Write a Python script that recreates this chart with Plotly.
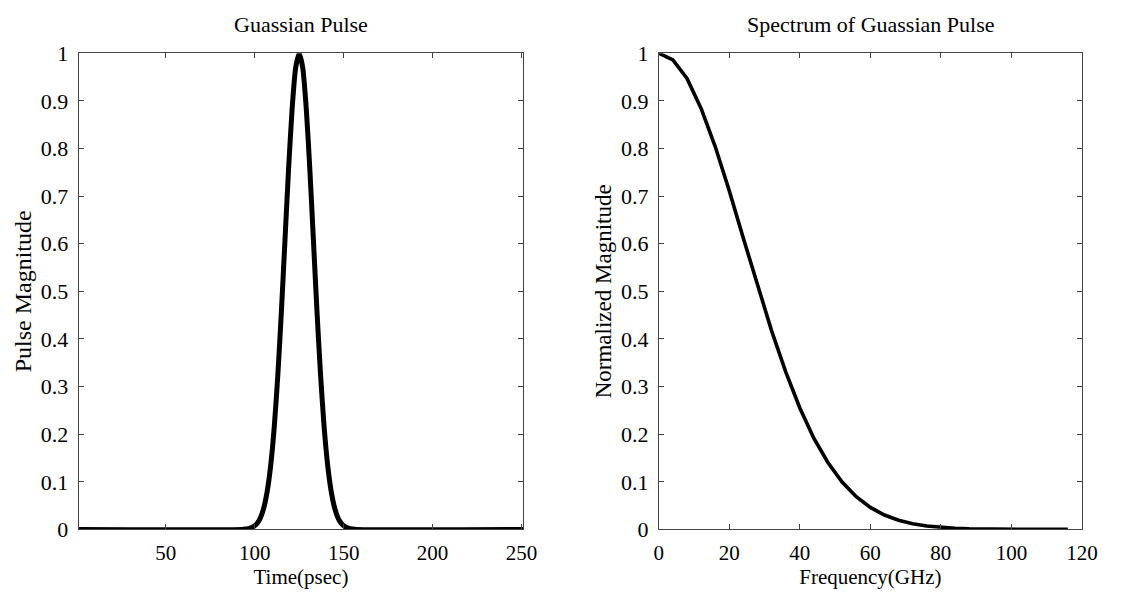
import plotly.graph_objects as go

# ---- data ----
time_ps = [1, 93, 95, 97, 99, 101, 103, 105, 107, 109, 111, 113, 115, 117, 119, 121, 123,
           125, 127, 129, 131, 133, 135, 137, 139, 141, 143, 145, 147, 149, 151, 153, 155, 157, 251]
pulse_mag = [0.0, 0.0, 0.0009, 0.0022, 0.0051, 0.0111, 0.0228, 0.0439, 0.0796, 0.135, 0.216,
             0.325, 0.458, 0.607, 0.755, 0.882, 0.969,
             1.0, 0.969, 0.882, 0.755, 0.607, 0.458, 0.325, 0.216, 0.135, 0.0796, 0.0439,
             0.0228, 0.0111, 0.0051, 0.0022, 0.0009, 0.0, 0.0]

freq_ghz = [0, 4, 8, 12, 16, 20, 24, 28, 32, 36, 40, 44, 48, 52, 56, 60, 64, 68, 72, 76,
            80, 84, 88, 92, 96, 100, 104, 108, 112, 116]
spec_mag = [1.0, 0.986, 0.947, 0.884, 0.804, 0.711, 0.611, 0.512, 0.417, 0.331, 0.255,
            0.191, 0.140, 0.0994, 0.0687, 0.0462, 0.0303, 0.0193, 0.0120, 0.0072, 0.0042,
            0.0024, 0.0013, 0.0007, 0.0004, 0.0002, 0.0001, 0.0, 0.0, 0.0]

left_xticks = [50, 100, 150, 200, 250]
right_xticks = [0, 20, 40, 60, 80, 100, 120]
yticks = [0, 0.1, 0.2, 0.3, 0.4, 0.5, 0.6, 0.7, 0.8, 0.9, 1]
ytick_text = ["0", "0.1", "0.2", "0.3", "0.4", "0.5", "0.6", "0.7", "0.8", "0.9", "1"]

FONT = "Liberation Serif"
W, H = 1146, 598

fig = go.Figure()
fig.add_trace(go.Scatter(x=time_ps, y=pulse_mag, mode="lines",
                         line=dict(color="black", width=5, shape="spline", smoothing=0.6),
                         xaxis="x", yaxis="y", showlegend=False))
fig.add_trace(go.Scatter(x=freq_ghz, y=spec_mag, mode="lines",
                         line=dict(color="black", width=3.6),
                         xaxis="x2", yaxis="y2", showlegend=False))

ax_common = dict(showline=True, linecolor="#444", linewidth=1, mirror="ticks",
                 ticks="inside", ticklen=5, tickcolor="#444", showgrid=False,
                 zeroline=False)

xtickfont = dict(family=FONT, size=21, color="black")
ytickfont = dict(family=FONT, size=22, color="black")
ydom = [(598 - 540) / H, (598 - 43) / H]

fig.update_layout(
    width=W, height=H,
    margin=dict(l=0, r=0, t=0, b=0),
    paper_bgcolor="white", plot_bgcolor="white",
    font=dict(family=FONT, size=20, color="black"),
    xaxis=dict(domain=[75 / W, 528 / W], range=[1, 251], tickvals=left_xticks,
               anchor="y", tickfont=xtickfont, ticklabelstandoff=4,
               title=dict(text="Time(psec)", font=dict(family=FONT, size=21), standoff=0),
               **ax_common),
    yaxis=dict(domain=ydom, range=[0, 1], tickvals=yticks, ticktext=ytick_text,
               anchor="x", tickfont=ytickfont, ticklabelstandoff=5,
               title=dict(text="Pulse Magnitude", font=dict(family=FONT, size=24), standoff=2),
               **ax_common),
    xaxis2=dict(domain=[666 / W, 1097 / W], range=[0, 120], tickvals=right_xticks,
                anchor="y2", tickfont=xtickfont, ticklabelstandoff=4,
                title=dict(text="Frequency(GHz)", font=dict(family=FONT, size=21), standoff=0),
                **ax_common),
    yaxis2=dict(domain=ydom, range=[0, 1], tickvals=yticks, ticktext=ytick_text,
                anchor="x2", tickfont=ytickfont, ticklabelstandoff=5,
                title=dict(text="Normalized Magnitude", font=dict(family=FONT, size=23), standoff=2),
                **ax_common),
    annotations=[
        dict(text="Guassian Pulse", xref="x domain", yref="y domain", x=0.5, y=1,
             xanchor="center", yanchor="bottom", yshift=14, showarrow=False,
             font=dict(family=FONT, size=22, color="black")),
        dict(text="Spectrum of Guassian Pulse", xref="x2 domain", yref="y2 domain", x=0.5, y=1,
             xanchor="center", yanchor="bottom", yshift=14, showarrow=False,
             font=dict(family=FONT, size=22, color="black")),
    ],
)

fig.write_html("out.html")
